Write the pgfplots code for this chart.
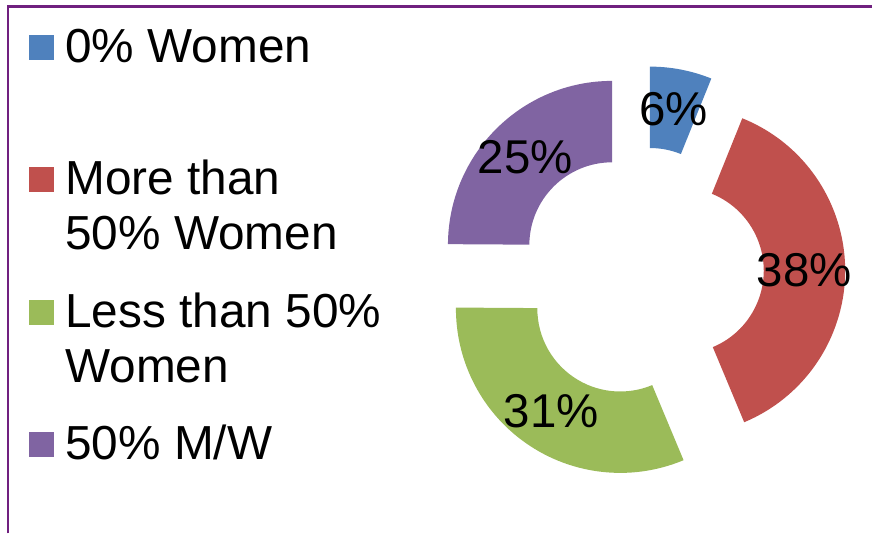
\documentclass[border=0pt]{standalone}
\usepackage{pgfplots}
\usepackage{pgfplotstable}
\usepackage{fontspec}
\setmainfont{Liberation Sans}
\pgfplotsset{compat=1.18}
\definecolor{cBlue}{HTML}{4F81BD}
\definecolor{cRed}{HTML}{C0504D}
\definecolor{cGreen}{HTML}{9BBB59}
\definecolor{cPurple}{HTML}{8064A2}
\definecolor{frameCol}{HTML}{70207F}

% value (percent), explosion offset of each segment (dx, dy), colour
\pgfplotstableread{
value dx dy col
6.1   10.7  39.8 cBlue
37.6  41.7  0.0  cRed
31.4 -19.0 -38.0 cGreen
24.9 -27.0  25.5 cPurple
}\donutdata

\def\cx{640}
\def\cy{263}
\def\Rout{164.5}
\def\Rin{83}
\newcommand\labfont{\fontsize{47.5pt}{55pt}\selectfont}

\begin{document}
\begin{tikzpicture}
\begin{axis}[
  scale only axis,
  width=873pt, height=534pt,
  xmin=0, xmax=873, ymin=0, ymax=534,
  enlargelimits=false,
  hide axis,
  clip=false,
  legend style={
    at={(29/873,510.2/534)}, anchor=north west,
    draw=none, fill=none, inner sep=0pt, outer sep=0pt,
    row sep=22.6pt, column sep=12pt,
    font=\fontsize{47.8pt}{55pt}\selectfont,
    nodes={inner sep=0pt, outer sep=0pt, text depth=},
    cells={anchor=base west},
  },
]
\path (axis cs:0,0) rectangle (axis cs:873,534);
\draw[frameCol, line width=2.2pt] (axis cs:7.7,0) -- (axis cs:7.7,527.5) -- (axis cs:873,527.5);

\def\cum{0}
\pgfplotsforeachungrouped \i in {0,...,3}{%
  \pgfplotstablegetelem{\i}{value}\of\donutdata \let\v\pgfplotsretval
  \pgfplotstablegetelem{\i}{dx}\of\donutdata \let\ddx\pgfplotsretval
  \pgfplotstablegetelem{\i}{dy}\of\donutdata \let\ddy\pgfplotsretval
  \pgfplotstablegetelem{\i}{col}\of\donutdata \let\col\pgfplotsretval
  \pgfmathsetmacro\aa{90-3.6*\cum}
  \pgfmathsetmacro\ab{90-3.6*(\cum+\v)}
  \pgfmathsetmacro\am{(\aa+\ab)/2}
  \pgfmathsetmacro\sx{\cx+\ddx}
  \pgfmathsetmacro\sy{\cy+\ddy}
  \pgfmathsetmacro\ox{\sx+\Rout*cos(\aa)}
  \pgfmathsetmacro\oy{\sy+\Rout*sin(\aa)}
  \pgfmathsetmacro\ix{\sx+\Rin*cos(\ab)}
  \pgfmathsetmacro\iy{\sy+\Rin*sin(\ab)}
  \pgfmathsetmacro\lx{\sx+0.5*(\Rout+\Rin)*cos(\am)}
  \pgfmathsetmacro\ly{\sy+0.5*(\Rout+\Rin)*sin(\am)}
  \pgfmathtruncatemacro\lab{round(\v)}
  \edef\temp{\noexpand\fill[\col] (axis cs:\ox,\oy) arc[start angle=\aa, end angle=\ab, radius=\Rout pt]
     -- (axis cs:\ix,\iy) arc[start angle=\ab, end angle=\aa, radius=\Rin pt] -- cycle;
     \noexpand\node[font=\noexpand\labfont, inner sep=0pt] at (axis cs:\lx,\ly) {\lab\noexpand\%};}%
  \temp
  \pgfmathsetmacro\cum{\cum+\v}%
}

\addlegendimage{legend image code/.code={\fill[cBlue] (0pt,3.3pt) rectangle (24pt,27.3pt);}}
\addlegendentry{\parbox[t]{340pt}{\strut 0\% Women\\\strut}}
\addlegendimage{legend image code/.code={\fill[cRed] (0pt,3.3pt) rectangle (24pt,27.3pt);}}
\addlegendentry{\parbox[t]{340pt}{\strut More than\\\strut 50\% Women}}
\addlegendimage{legend image code/.code={\fill[cGreen] (0pt,3.3pt) rectangle (24pt,27.3pt);}}
\addlegendentry{\parbox[t]{340pt}{\strut Less than 50\%\\\strut Women}}
\addlegendimage{legend image code/.code={\fill[cPurple] (0pt,3.3pt) rectangle (24pt,27.3pt);}}
\addlegendentry{\parbox[t]{340pt}{\strut 50\% M/W\\\strut}}
\end{axis}
\end{tikzpicture}
\end{document}
